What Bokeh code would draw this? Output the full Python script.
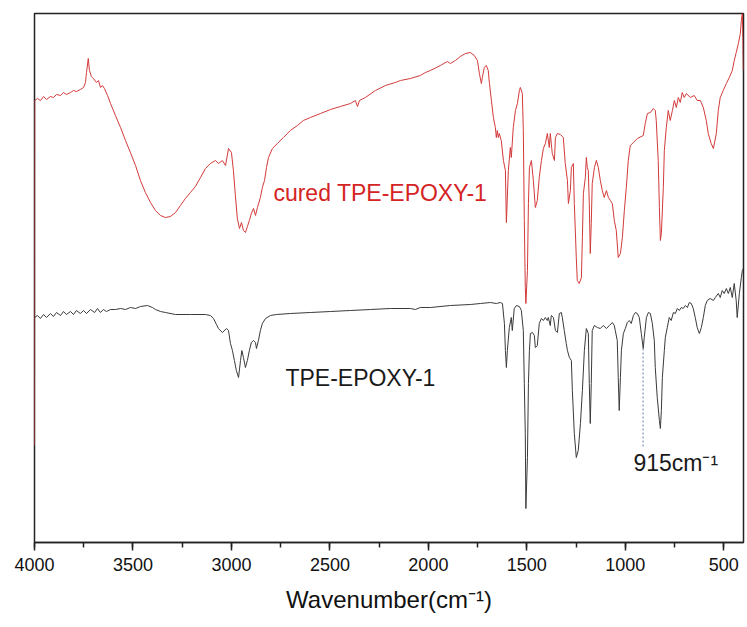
from bokeh.plotting import figure
from bokeh.models import Range1d, SingleIntervalTicker
from bokeh.core.properties import value
from bokeh.embed import file_html
from bokeh.resources import INLINE

# cured TPE-EPOXY-1 (wavenumber, transmittance a.u.)
red_wn = [4000, 3999, 3985, 3970, 3954, 3939, 3919, 3904, 3888, 3868, 3853, 3838, 3817, 3802, 3787, 3767,
          3751, 3741, 3736, 3727, 3721, 3711, 3701, 3685, 3675, 3665, 3655, 3645, 3629, 3614, 3589, 3563,
          3538, 3513, 3487, 3462, 3437, 3411, 3386, 3360, 3335, 3310, 3284, 3259, 3234, 3208, 3183, 3157,
          3132, 3107, 3081, 3066, 3046, 3030, 3015, 3000, 2990, 2980, 2970, 2959, 2949, 2939, 2929, 2919,
          2909, 2899, 2888, 2878, 2868, 2853, 2843, 2832, 2822, 2812, 2792, 2767, 2736, 2701, 2665, 2635,
          2599, 2548, 2497, 2447, 2396, 2371, 2360, 2350, 2320, 2269, 2218, 2168, 2142, 2091, 2041, 2015,
          1990, 1939, 1904, 1888, 1863, 1838, 1812, 1787, 1767, 1751, 1741, 1731, 1726, 1716, 1706, 1696,
          1690, 1680, 1670, 1660, 1655, 1650, 1645, 1640, 1630, 1619, 1609, 1604, 1594, 1584, 1579, 1569,
          1558, 1548, 1538, 1533, 1523, 1518, 1513, 1508, 1505, 1497, 1492, 1487, 1477, 1467, 1457, 1447,
          1437, 1426, 1416, 1406, 1396, 1386, 1381, 1371, 1360, 1355, 1345, 1330, 1315, 1305, 1294, 1289,
          1279, 1274, 1264, 1259, 1249, 1244, 1234, 1223, 1218, 1213, 1203, 1198, 1193, 1188, 1183, 1178,
          1173, 1168, 1157, 1147, 1137, 1127, 1117, 1107, 1096, 1086, 1076, 1066, 1056, 1046, 1036, 1025,
          1015, 1005, 995, 985, 975, 959, 939, 909, 899, 888, 873, 858, 848, 843, 833, 827,
          822, 817, 807, 802, 792, 782, 772, 761, 751, 741, 731, 721, 711, 701, 690, 670,
          650, 635, 619, 604, 589, 579, 564, 553, 538, 528, 518, 503, 487, 472, 457, 447,
          437, 426, 416, 411, 406, 403, 401]
red_t = [97, 442, 444, 442, 446, 443, 446, 445, 448, 447, 450, 448, 450, 452, 451, 453,
         455, 460, 470, 484, 472, 466, 464, 460, 462, 455, 457, 454, 447, 439, 427, 415,
         402, 390, 377, 362, 350, 340, 332, 327, 325, 326, 330, 337, 344, 350, 356, 365,
         374, 379, 382, 379, 382, 377, 394, 390, 372, 347, 324, 314, 320, 312, 310, 316,
         322, 329, 334, 327, 335, 345, 355, 362, 375, 385, 394, 399, 405, 412, 417, 422,
         425, 429, 433, 436, 439, 442, 436, 442, 445, 452, 457, 460, 462, 464, 467, 470,
         472, 477, 481, 479, 482, 486, 489, 490, 487, 482, 469, 459, 465, 475, 477, 472,
         459, 442, 425, 415, 405, 412, 405, 409, 402, 382, 372, 320, 372, 395, 385, 415,
         432, 439, 452, 455, 449, 412, 322, 255, 239, 272, 339, 375, 382, 362, 335, 342,
         365, 382, 394, 399, 409, 395, 409, 389, 382, 405, 409, 408, 405, 379, 362, 339,
         352, 375, 379, 339, 285, 262, 259, 265, 305, 349, 365, 385, 375, 372, 339, 289,
         319, 359, 375, 382, 375, 362, 352, 345, 352, 345, 342, 339, 322, 312, 285, 289,
         305, 332, 355, 382, 397, 400, 404, 407, 419, 429, 430, 434, 432, 422, 382, 335,
         302, 309, 355, 392, 415, 432, 422, 432, 442, 435, 445, 440, 450, 445, 449, 445,
         447, 442, 442, 435, 422, 409, 399, 394, 409, 432, 445, 452, 459, 465, 472, 482,
         490, 499, 509, 522, 529, 502, 472]

# TPE-EPOXY-1 (wavenumber, transmittance a.u.)
black_wn = [4000, 3985, 3970, 3954, 3939, 3919, 3904, 3888, 3868, 3853, 3838, 3817, 3802, 3787, 3767, 3751,
            3736, 3716, 3695, 3680, 3665, 3650, 3635, 3614, 3589, 3563, 3538, 3513, 3487, 3462, 3426, 3401,
            3386, 3360, 3335, 3284, 3208, 3132, 3107, 3091, 3076, 3066, 3046, 3025, 3015, 3005, 2995, 2985,
            2975, 2964, 2954, 2947, 2939, 2929, 2919, 2909, 2899, 2888, 2878, 2873, 2863, 2853, 2843, 2827,
            2802, 2772, 2701, 2599, 2497, 2396, 2294, 2193, 2091, 2066, 2041, 1990, 1888, 1787, 1736, 1685,
            1655, 1635, 1624, 1614, 1609, 1604, 1599, 1589, 1579, 1574, 1564, 1553, 1538, 1528, 1518, 1513,
            1508, 1505, 1497, 1492, 1487, 1482, 1472, 1462, 1457, 1447, 1437, 1426, 1416, 1406, 1396, 1391,
            1381, 1376, 1365, 1355, 1345, 1335, 1325, 1320, 1310, 1300, 1294, 1284, 1274, 1269, 1259, 1249,
            1239, 1228, 1218, 1208, 1198, 1188, 1183, 1178, 1173, 1168, 1157, 1142, 1127, 1112, 1096, 1081,
            1066, 1056, 1051, 1041, 1036, 1031, 1025, 1020, 1010, 1000, 990, 980, 970, 959, 949, 939,
            929, 919, 909, 904, 893, 883, 873, 863, 853, 848, 838, 827, 822, 817, 812, 802,
            797, 787, 777, 767, 756, 746, 736, 726, 716, 706, 695, 685, 675, 665, 655, 645,
            635, 624, 614, 604, 594, 584, 569, 553, 543, 528, 518, 508, 498, 487, 477, 467,
            457, 447, 437, 432, 421, 411, 406, 401]
black_t = [225, 227, 224, 228, 225, 229, 226, 230, 227, 231, 228, 231, 228, 232, 229, 232,
           229, 233, 230, 234, 230, 233, 231, 233, 233, 234, 233, 235, 234, 236, 237, 235,
           233, 231, 230, 228, 228, 228, 227, 224, 218, 214, 210, 214, 212, 199, 192, 182,
           172, 165, 182, 192, 185, 175, 182, 192, 200, 202, 200, 194, 202, 212, 219, 224,
           227, 228, 229, 230, 231, 232, 233, 234, 234, 233, 235, 235, 237, 238, 239, 240,
           239, 240, 239, 219, 192, 175, 192, 215, 225, 212, 234, 237, 236, 232, 212, 159,
           109, 34, 85, 159, 192, 209, 210, 207, 195, 197, 219, 224, 222, 225, 222, 225,
           217, 227, 225, 212, 210, 229, 230, 225, 212, 199, 192, 185, 182, 152, 109, 85,
           92, 119, 152, 192, 214, 209, 159, 119, 159, 212, 217, 215, 214, 217, 214, 217,
           220, 217, 212, 202, 165, 132, 165, 192, 209, 214, 220, 222, 219, 227, 230, 229,
           225, 209, 194, 205, 225, 230, 229, 219, 202, 175, 145, 122, 114, 132, 165, 192,
           205, 215, 225, 222, 230, 229, 234, 232, 235, 234, 237, 235, 240, 239, 234, 225,
           215, 209, 215, 225, 237, 242, 244, 242, 245, 249, 245, 252, 249, 254, 249, 255,
           245, 259, 242, 225, 249, 265, 272, 274]

# marker for the 915 cm-1 band
mark_wn = [910, 910]
mark_t = [194, 95]

ticks_interval = 500

p = figure(frame_width=709, frame_height=529, output_backend="svg", toolbar_location=None,
           x_range=Range1d(4000, 400), y_range=Range1d(0, 529),
           min_border_left=34, min_border_right=2, min_border_top=13, min_border_bottom=60)
p.background_fill_color = "white"
p.border_fill_color = "white"
p.outline_line_color = "#222222"
p.outline_line_width = 1.5
p.xgrid.visible = False
p.ygrid.visible = False
p.yaxis.visible = False

ax = p.xaxis[0]
ax.ticker = SingleIntervalTicker(interval=ticks_interval, num_minor_ticks=2)
ax.axis_line_color = "#222222"
ax.axis_line_width = 1.5
ax.major_tick_line_color = "#222222"
ax.major_tick_line_width = 1.5
ax.minor_tick_line_color = "#222222"
ax.minor_tick_line_width = 1.5
ax.major_tick_in = 0
ax.major_tick_out = 8
ax.minor_tick_in = 0
ax.minor_tick_out = 5
ax.major_label_text_font = "Liberation Sans"
ax.major_label_text_font_size = "18px"
ax.major_label_text_color = "#111111"
ax.major_label_standoff = 7
ax.axis_label = "Wavenumber(cm\u207b\u00b9)"
ax.axis_label_text_font = "Liberation Sans"
ax.axis_label_text_font_size = "24px"
ax.axis_label_text_font_style = "normal"
ax.axis_label_text_color = "#111111"
ax.axis_label_standoff = 12

p.line(red_wn, red_t, line_color="#d23a3a", line_width=1)
p.line(black_wn, black_t, line_color="#3a3a3a", line_width=1)
p.line(mark_wn, mark_t, line_color="#6a7fb0", line_width=1, line_dash="2 2")

p.text(x=[2787], y=[350], text=["cured TPE-EPOXY-1"], text_font=value("Liberation Sans"),
       text_font_size="23px", text_color="#d42424", text_align="left", text_baseline="middle")
p.text(x=[2726], y=[165], text=["TPE-EPOXY-1"], text_font=value("Liberation Sans"),
       text_font_size="23px", text_color="#1a1a1a", text_align="left", text_baseline="middle")
p.text(x=[959], y=[80], text=["915cm\u207b\u00b9"], text_font=value("Liberation Sans"),
       text_font_size="23px", text_color="#1a1a1a", text_align="left", text_baseline="middle")

open("out.html", "w").write(file_html(p, INLINE))
